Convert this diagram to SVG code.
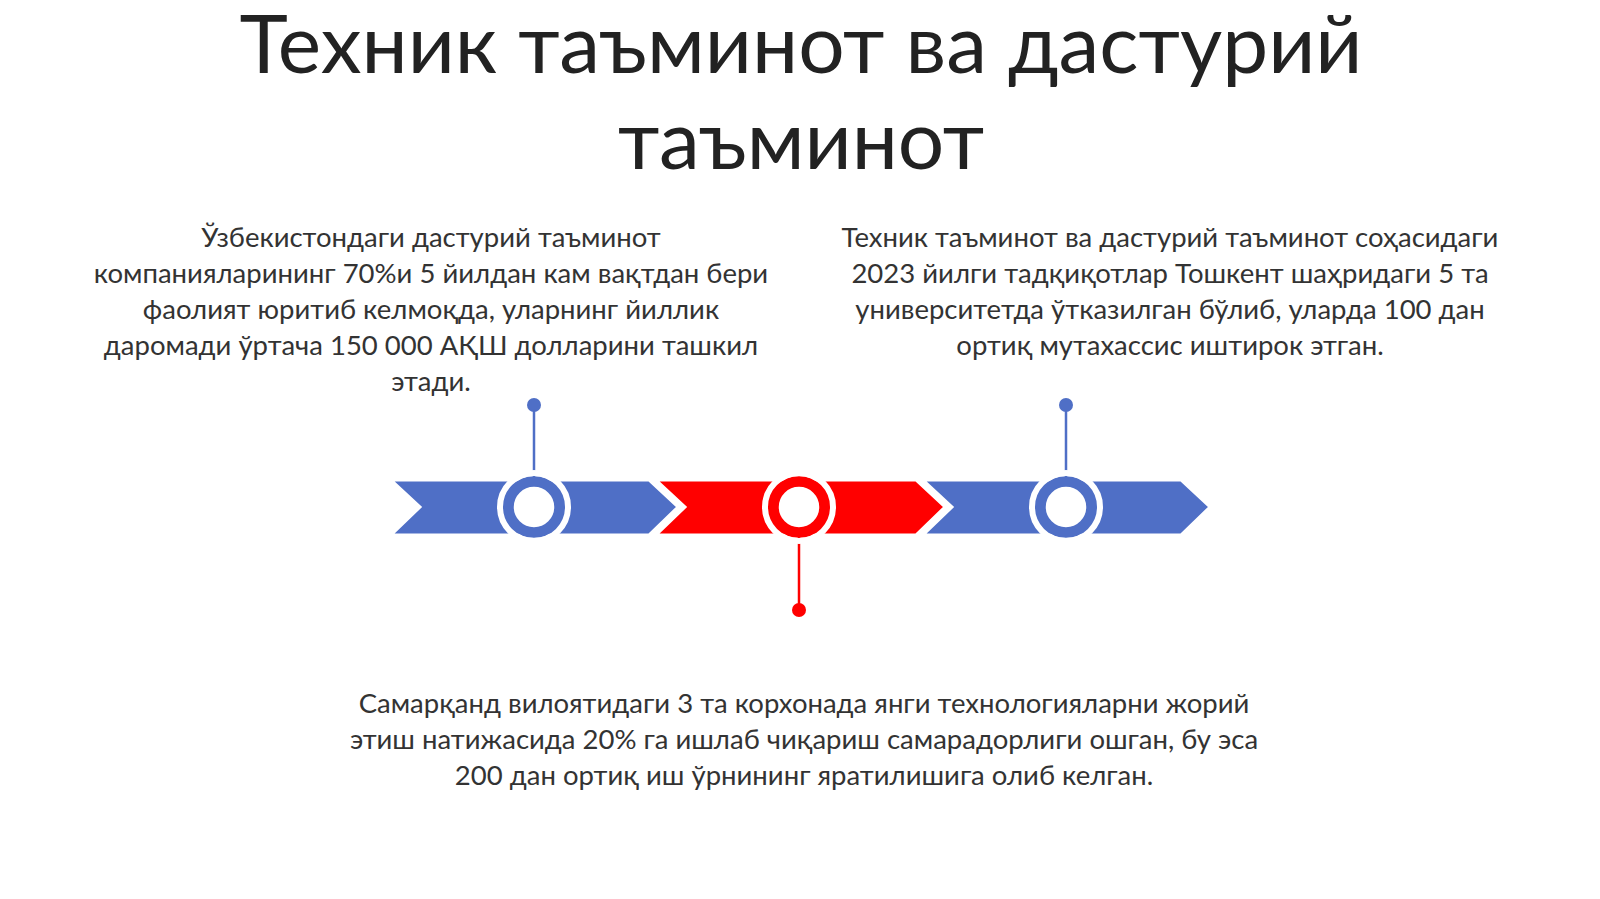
<svg xmlns="http://www.w3.org/2000/svg" width="1600" height="899" viewBox="0 0 1600 899">
<style>
.t{font-family:Lato,"Liberation Sans",sans-serif;fill:#222;font-size:82px;text-anchor:middle}
.b{font-family:Lato,"Liberation Sans",sans-serif;fill:#333;font-size:27.5px;text-anchor:middle}
.blue{fill:#4f6fc6}.red{fill:#ff0000}
</style>
<rect width="1600" height="899" fill="#fff"/>
<text class="t" x="801" y="73">Техник таъминот ва дастурий</text>
<text class="t" x="801" y="169">таъминот</text>
<g id="text1" class="b">
<text x="431" y="247">Ўзбекистондаги дастурий таъминот</text>
<text x="431" y="283">компанияларининг 70%и 5 йилдан кам вақтдан бери</text>
<text x="431" y="319">фаолият юритиб келмоқда, уларнинг йиллик</text>
<text x="431" y="355">даромади ўртача 150 000 АҚШ долларини ташкил</text>
<text x="431" y="391">этади.</text>
</g>
<g id="text2" class="b">
<text x="1170" y="247">Техник таъминот ва дастурий таъминот соҳасидаги</text>
<text x="1170" y="283">2023 йилги тадқиқотлар Тошкент шаҳридаги 5 та</text>
<text x="1170" y="319">университетда ўтказилган бўлиб, уларда 100 дан</text>
<text x="1170" y="355">ортиқ мутахассис иштирок этган.</text>
</g>
<g id="text3" class="b">
<text x="804" y="713">Самарқанд вилоятидаги 3 та корхонада янги технологияларни жорий</text>
<text x="804" y="749">этиш натижасида 20% га ишлаб чиқариш самарадорлиги ошган, бу эса</text>
<text x="804" y="785">200 дан ортиқ иш ўрнининг яратилишига олиб келган.</text>
</g>
<g id="connectors">
<line x1="534" y1="405" x2="534" y2="480" stroke="#4f6fc6" stroke-width="2.5"/>
<circle cx="534" cy="405" r="7" class="blue"/>
<line x1="1066" y1="405" x2="1066" y2="480" stroke="#4f6fc6" stroke-width="2.5"/>
<circle cx="1066" cy="405" r="7" class="blue"/>
<line x1="799" y1="535" x2="799" y2="610" stroke="#ff0000" stroke-width="2.5"/>
<circle cx="799" cy="610" r="7" class="red"/>
</g>
<g id="chevron1"><polygon class="blue" points="391,480 649,480 678,507 649,535 391,535 420,507" stroke="#fff" stroke-width="3"/></g>
<g id="chevron2"><polygon class="red" points="656,480 916,480 945,507 916,535 656,535 685,507" stroke="#fff" stroke-width="3"/></g>
<g id="chevron3"><polygon class="blue" points="923,480 1181,480 1210,507 1181,535 923,535 952,507" stroke="#fff" stroke-width="3"/></g>
<g id="ring1"><circle cx="534" cy="507" r="25.5" fill="#fff" stroke="#4f6fc6" stroke-width="10.5"/><circle cx="534" cy="507" r="34" fill="none" stroke="#fff" stroke-width="6"/></g>
<g id="ring2"><circle cx="799" cy="507" r="25.5" fill="#fff" stroke="#ff0000" stroke-width="10.5"/><circle cx="799" cy="507" r="34" fill="none" stroke="#fff" stroke-width="6"/></g>
<g id="ring3"><circle cx="1066" cy="507" r="25.5" fill="#fff" stroke="#4f6fc6" stroke-width="10.5"/><circle cx="1066" cy="507" r="34" fill="none" stroke="#fff" stroke-width="6"/></g>
</svg>
